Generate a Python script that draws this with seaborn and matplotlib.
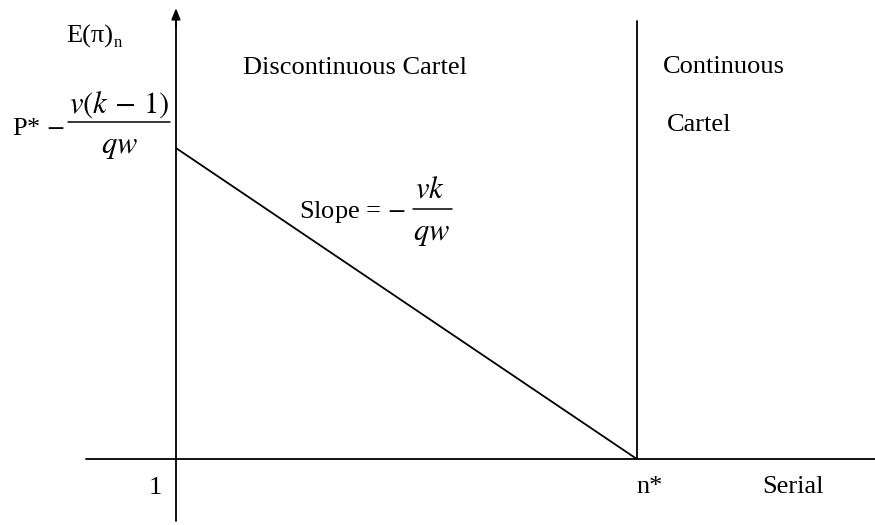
import matplotlib
matplotlib.use("Agg")
import matplotlib.pyplot as plt
from matplotlib.lines import Line2D
import seaborn as sns
import pandas as pd

sns.set_theme(style="white")
plt.rcParams['font.family'] = ['Liberation Serif', 'DejaVu Serif']
plt.rcParams['mathtext.fontset'] = 'stix'

# Data (conceptual units)
serial = [1, 10]            # 1 .. n*
exp_profit = [6.0, 0.0]     # E(pi)_n from P* - v(k-1)/qw down to 0 at n*
n_star = 10
y_axis_top = 8.7
x_axis_right = 14.65

df = pd.DataFrame({"serial": serial, "profit": exp_profit})

W, H = 875, 525
fig = plt.figure(figsize=(W / 100, H / 100), dpi=100)
ax = fig.add_axes([0, 0, 1, 1])
ax.set_xlim(-2.436, 14.65)
ax.set_ylim(-1.273, 8.856)
ax.axis("off")

lw = 1.3
# diagonal line
sns.lineplot(data=df, x="serial", y="profit", ax=ax, color="black", linewidth=lw)
# x axis
ax.plot([-0.76, x_axis_right], [0, 0], color="black", linewidth=lw)
# y axis with arrow
ax.plot([1, 1], [-1.19, y_axis_top - 0.2], color="black", linewidth=lw)
ax.annotate("", xy=(1, y_axis_top), xytext=(1, y_axis_top - 0.35),
            arrowprops=dict(arrowstyle="-|>,head_length=0.55,head_width=0.22",
                            color="black", lw=lw, shrinkA=0, shrinkB=0))
# n* vertical
ax.plot([n_star, n_star], [0, 8.45], color="black", linewidth=lw)


def ftext(x, y, s, size=19, ha="left", va="baseline", **kw):
    fig.text(x / W, 1 - y / H, s, fontsize=size, ha=ha, va=va, color="black", **kw)


def fbar(x0, x1, y, lw=1.1):
    fig.add_artist(Line2D([x0 / W, x1 / W], [1 - y / H, 1 - y / H],
                          transform=fig.transFigure, color="black", linewidth=lw))


ftext(66, 43, "E(\u03c0)", size=19)
ftext(114, 47, "n", size=12)
ftext(243, 74, "Discontinuous Cartel")
ftext(663, 73, "Continuous")
ftext(667, 131, "Cartel")

# P* - v(k-1)/qw
ftext(12, 135, r"P* $-$", size=19)
ftext(119, 113, r"$v(k\,-\,1)$", size=22, ha="center")
fbar(68, 170, 122)
ftext(120, 153, r"$qw$", size=22, ha="center")

# Slope = -vk/qw
ftext(299, 218, r"Slope = $-$", size=19)
ftext(430, 197, r"$vk$", size=22, ha="center")
fbar(413, 452, 209)
ftext(432, 240, r"$qw$", size=22, ha="center")

ftext(155, 494, "1", ha="center")
ftext(650, 493, "n*", ha="center")
ftext(793, 493, "Serial", ha="center")

fig.savefig("out.png", dpi=100)
